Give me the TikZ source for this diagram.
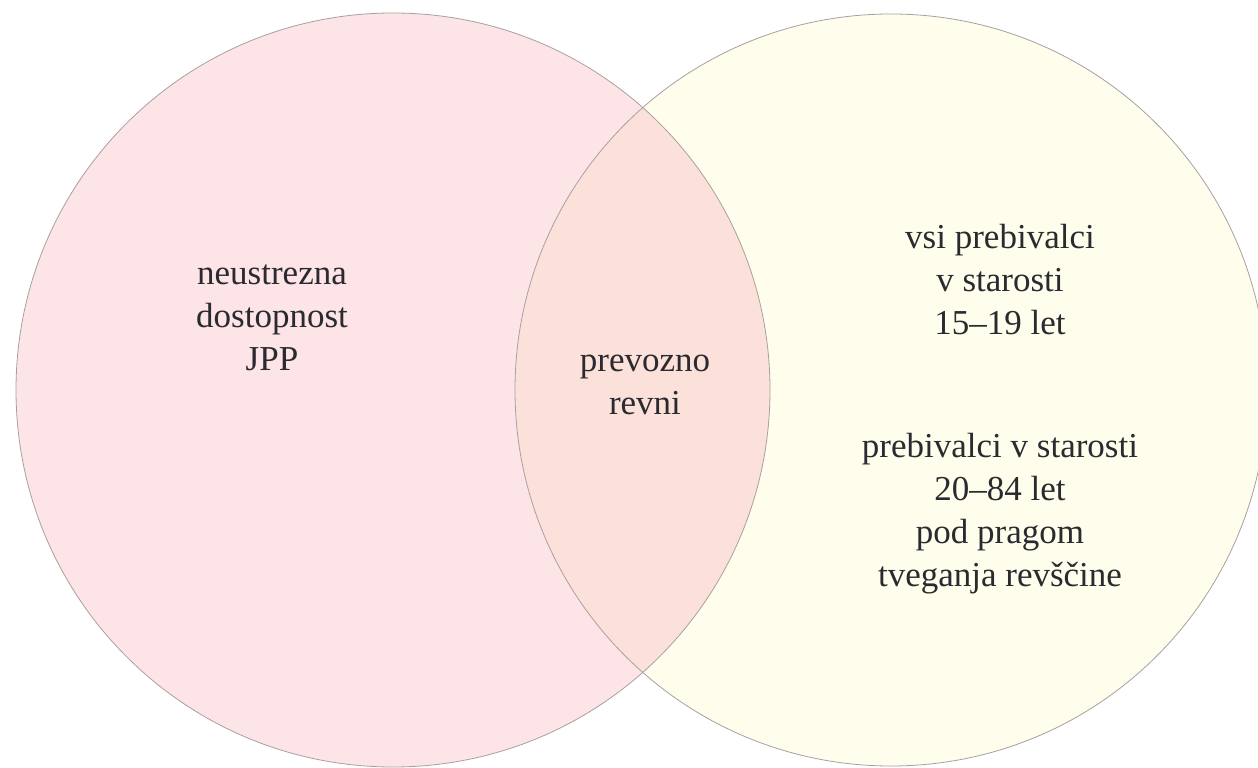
\documentclass[tikz,border=0pt]{standalone}
\usepackage{fontspec}
\setmainfont{Liberation Serif}
\definecolor{pinkfill}{HTML}{FDE4E6}
\definecolor{yellowfill}{HTML}{FFFDEB}
\definecolor{peachfill}{HTML}{FCE1DA}
\definecolor{edgegray}{HTML}{A8A0A0}
\definecolor{txt}{HTML}{2A2A30}
\tikzset{
  venn/.style={circle, draw=edgegray, line width=0.8pt, inner sep=0pt},
  lbl/.style={align=center, text=txt, font=\fontsize{35}{43}\selectfont, inner sep=0pt}
}
\begin{document}
\begin{tikzpicture}[x=1pt,y=1pt]
\useasboundingbox (0,0) rectangle (1258,768);
\fill[pinkfill] (393,378) circle (377);
\fill[yellowfill] (891,378) circle (376);
\begin{scope}
\clip (393,378) circle (377);
\fill[peachfill] (891,378) circle (376);
\end{scope}
\node[venn, minimum size=754pt] (L) at (393,378) {};
\node[venn, minimum size=752pt] (R) at (891,378) {};
\node[lbl] (a) at (272,450) {neustrezna\\dostopnost\\JPP};
\node[lbl] (b) at (645,383) {prevozno\\revni};
\node[lbl] (c) at (1000,488) {vsi prebivalci\\v starosti\\15–19 let};
\node[lbl] (d) at (1000,254) {prebivalci v starosti\\20–84 let\\pod pragom\\tveganja revščine};
\end{tikzpicture}
\end{document}
